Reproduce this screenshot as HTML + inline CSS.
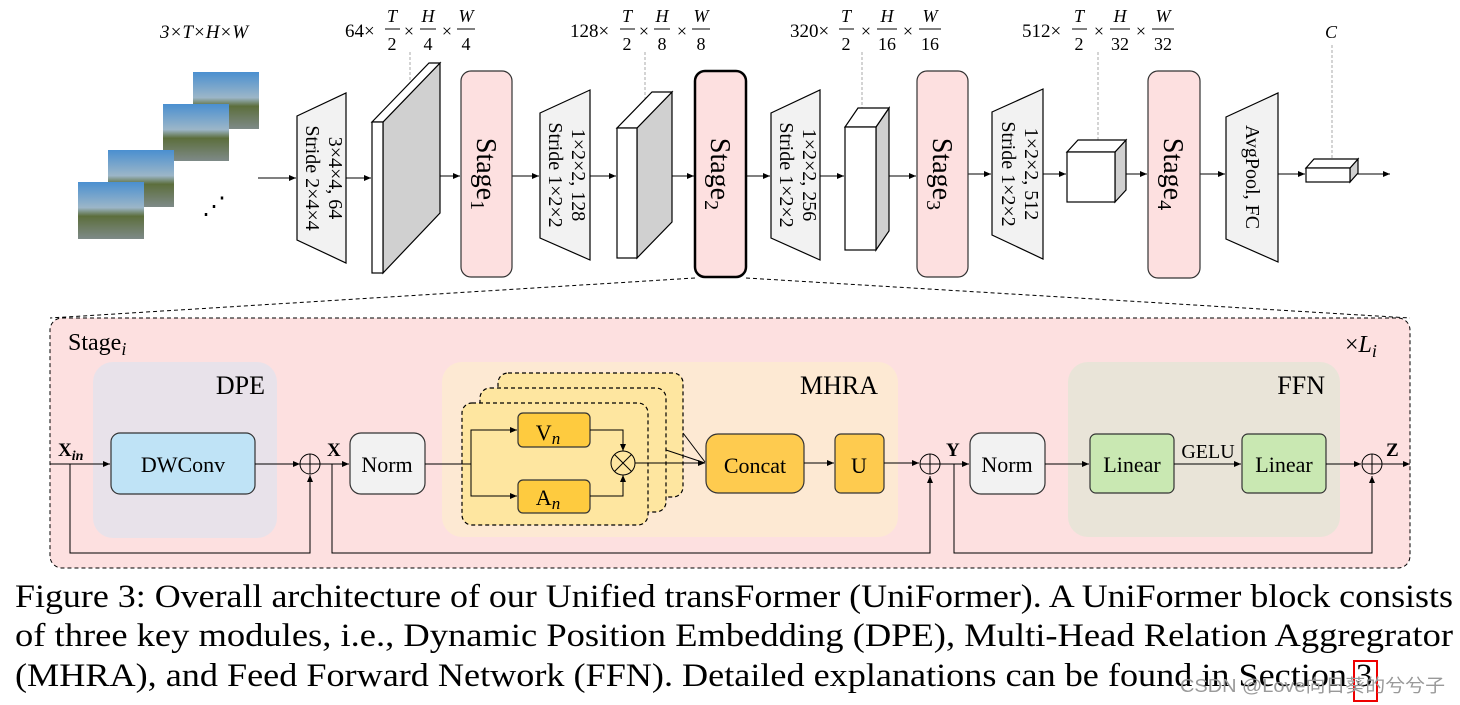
<!DOCTYPE html>
<html><head><meta charset="utf-8"><style>
html,body{margin:0;padding:0;background:#fff;}
svg{display:block;}
text{font-family:"Liberation Serif","DejaVu Serif",serif;}
.s{font-family:"Liberation Sans","DejaVu Sans",sans-serif;}
</style></head><body>
<svg width="1460" height="705" viewBox="0 0 1460 705" xmlns="http://www.w3.org/2000/svg">
<defs>
<marker id="a" markerWidth="8" markerHeight="8" refX="7" refY="4" orient="auto" markerUnits="userSpaceOnUse"><path d="M0,1 L7,4 L0,7 z" fill="#000"/></marker>
<linearGradient id="ph" x1="0" y1="0" x2="0" y2="1"><stop offset="0" stop-color="#4a8fd0"/><stop offset="0.45" stop-color="#9cb6c8"/><stop offset="0.6" stop-color="#5c6e3c"/><stop offset="1" stop-color="#7e8a88"/></linearGradient>
</defs>

<rect x="193" y="72" width="66" height="57" fill="url(#ph)"/>
<rect x="163" y="104" width="66" height="57" fill="url(#ph)"/>
<rect x="108" y="150" width="66" height="57" fill="url(#ph)"/>
<rect x="78" y="182" width="66" height="57" fill="url(#ph)"/>
<text x="202" y="214" font-size="24">⋰</text>

<text x="160" y="38" font-style="italic" font-size="19">3×T×H×W</text>
<g font-size="19">
<text x="345" y="37">64×</text>
<text x="570" y="37">128×</text>
<text x="790" y="37">320×</text>
<text x="1022" y="37">512×</text>
</g>
<g font-size="18" font-style="italic" text-anchor="middle">
<text x="392" y="22">T</text><text x="392" y="50" font-style="normal">2</text><line x1="385" y1="29" x2="400" y2="29" stroke="#000"/>
<text x="409" y="37" font-style="normal">×</text>
<text x="428" y="22">H</text><text x="428" y="50" font-style="normal">4</text><line x1="420" y1="29" x2="436" y2="29" stroke="#000"/>
<text x="447" y="37" font-style="normal">×</text>
<text x="466" y="22">W</text><text x="466" y="50" font-style="normal">4</text><line x1="457" y1="29" x2="475" y2="29" stroke="#000"/>

<text x="627" y="22">T</text><text x="627" y="50" font-style="normal">2</text><line x1="620" y1="29" x2="635" y2="29" stroke="#000"/>
<text x="644" y="37" font-style="normal">×</text>
<text x="662" y="22">H</text><text x="662" y="50" font-style="normal">8</text><line x1="654" y1="29" x2="670" y2="29" stroke="#000"/>
<text x="682" y="37" font-style="normal">×</text>
<text x="701" y="22">W</text><text x="701" y="50" font-style="normal">8</text><line x1="692" y1="29" x2="710" y2="29" stroke="#000"/>

<text x="846" y="22">T</text><text x="846" y="50" font-style="normal">2</text><line x1="839" y1="29" x2="854" y2="29" stroke="#000"/>
<text x="866" y="37" font-style="normal">×</text>
<text x="887" y="22">H</text><text x="887" y="50" font-style="normal">16</text><line x1="877" y1="29" x2="897" y2="29" stroke="#000"/>
<text x="908" y="37" font-style="normal">×</text>
<text x="930" y="22">W</text><text x="930" y="50" font-style="normal">16</text><line x1="919" y1="29" x2="941" y2="29" stroke="#000"/>

<text x="1079" y="22">T</text><text x="1079" y="50" font-style="normal">2</text><line x1="1072" y1="29" x2="1087" y2="29" stroke="#000"/>
<text x="1099" y="37" font-style="normal">×</text>
<text x="1120" y="22">H</text><text x="1120" y="50" font-style="normal">32</text><line x1="1110" y1="29" x2="1130" y2="29" stroke="#000"/>
<text x="1141" y="37" font-style="normal">×</text>
<text x="1163" y="22">W</text><text x="1163" y="50" font-style="normal">32</text><line x1="1152" y1="29" x2="1174" y2="29" stroke="#000"/>
<text x="1331" y="38">C</text>
</g>
<g stroke="#aaa" stroke-dasharray="3,2" stroke-width="1">
<line x1="410" y1="52" x2="410" y2="82"/>
<line x1="645" y1="52" x2="645" y2="104"/>
<line x1="862" y1="52" x2="862" y2="110"/>
<line x1="1098" y1="52" x2="1098" y2="142"/>
<line x1="1332" y1="45" x2="1332" y2="163"/>
</g>

<g stroke="#000" stroke-width="1" marker-end="url(#a)">
<line x1="258" y1="178" x2="296" y2="178"/>
<line x1="346" y1="178" x2="371" y2="178"/>
<line x1="430" y1="176" x2="460" y2="176"/>
<line x1="512" y1="176" x2="539" y2="176"/>
<line x1="590" y1="176" x2="616" y2="176"/>
<line x1="664" y1="176" x2="694" y2="176"/>
<line x1="746" y1="176" x2="770" y2="176"/>
<line x1="820" y1="176" x2="844" y2="176"/>
<line x1="884" y1="176" x2="916" y2="176"/>
<line x1="968" y1="174" x2="991" y2="174"/>
<line x1="1043" y1="174" x2="1066" y2="174"/>
<line x1="1120" y1="174" x2="1147" y2="174"/>
<line x1="1200" y1="174" x2="1225" y2="174"/>
<line x1="1278" y1="174" x2="1305" y2="174"/>
<line x1="1355" y1="174" x2="1390" y2="174"/>
</g>

<g fill="#f2f2f2" stroke="#000" stroke-width="1.2">
<polygon points="297,116 346,93 346,263 297,240"/>
<polygon points="540,113 590,90 590,260 540,238"/>
<polygon points="771,113 820,90 820,260 771,238"/>
<polygon points="992,112 1043,89 1043,259 992,235"/>
<polygon points="1226,117 1278,93 1278,262 1226,239"/>
</g>
<g font-size="20">
<text transform="translate(327,178) rotate(90)" text-anchor="middle" y="-2">3×4×4, 64</text>
<text transform="translate(304,178) rotate(90)" text-anchor="middle" y="-2">Stride 2×4×4</text>
<text transform="translate(570,175) rotate(90)" text-anchor="middle" y="-2">1×2×2, 128</text>
<text transform="translate(547,175) rotate(90)" text-anchor="middle" y="-2">Stride 1×2×2</text>
<text transform="translate(801,175) rotate(90)" text-anchor="middle" y="-2">1×2×2, 256</text>
<text transform="translate(778,175) rotate(90)" text-anchor="middle" y="-2">Stride 1×2×2</text>
<text transform="translate(1023,174) rotate(90)" text-anchor="middle" y="-2">1×2×2, 512</text>
<text transform="translate(1000,174) rotate(90)" text-anchor="middle" y="-2">Stride 1×2×2</text>
<text transform="translate(1246,177) rotate(90)" text-anchor="middle" y="0">AvgPool, FC</text>
</g>

<g stroke="#000" stroke-width="1.2">
<polygon points="383,122 440,63 440,213 383,273" fill="#d0d0d0"/>
<polygon points="372,122 383,122 440,63 429,63" fill="#fff"/>
<rect x="372" y="122" width="11" height="151" fill="#fff"/>
<polygon points="637,128 672,92 672,222 637,258" fill="#d0d0d0"/>
<polygon points="617,128 637,128 672,92 652,92" fill="#fff"/>
<rect x="617" y="128" width="20" height="130" fill="#fff"/>
<polygon points="876,127 889,108 889,231 876,250" fill="#d0d0d0"/>
<polygon points="845,127 876,127 889,108 858,108" fill="#fff"/>
<rect x="845" y="127" width="31" height="123" fill="#fff"/>
<polygon points="1115,152 1126,140 1126,190 1115,202" fill="#d0d0d0"/>
<polygon points="1067,152 1115,152 1126,140 1078,140" fill="#fff"/>
<rect x="1067" y="152" width="48" height="50" fill="#fff"/>
<polygon points="1350,168 1358,159 1358,173 1350,182" fill="#d0d0d0"/>
<polygon points="1306,168 1350,168 1358,159 1314,159" fill="#fff"/>
<rect x="1306" y="168" width="44" height="14" fill="#fff"/>
</g>

<g fill="#fde0e0" stroke="#333" stroke-width="1.2">
<rect x="461" y="71" width="51" height="206" rx="10"/>
<rect x="695" y="71" width="51" height="206" rx="10" stroke="#000" stroke-width="2.5"/>
<rect x="917" y="71" width="51" height="206" rx="10"/>
<rect x="1148" y="71" width="52" height="207" rx="10"/>
</g>
<g font-size="28">
<text transform="translate(477,174) rotate(90)" text-anchor="middle">Stage<tspan font-size="20" dy="6">1</tspan></text>
<text transform="translate(711,174) rotate(90)" text-anchor="middle">Stage<tspan font-size="20" dy="6">2</tspan></text>
<text transform="translate(933,174) rotate(90)" text-anchor="middle">Stage<tspan font-size="20" dy="6">3</tspan></text>
<text transform="translate(1164,174) rotate(90)" text-anchor="middle">Stage<tspan font-size="20" dy="6">4</tspan></text>
</g>

<g stroke="#000" stroke-dasharray="4,3" stroke-width="1">
<line x1="695" y1="278" x2="50" y2="318"/>
<line x1="746" y1="278" x2="1410" y2="318"/>
</g>

<rect x="50" y="318" width="1360" height="250" rx="12" fill="#fde0e0" stroke="#000" stroke-dasharray="4,3" stroke-width="1"/>
<text x="68" y="350" font-size="24">Stage<tspan font-style="italic" font-size="18" dy="5">i</tspan></text>
<text x="1345" y="352" font-size="24">×<tspan font-style="italic">L</tspan><tspan font-style="italic" font-size="18" dy="5">i</tspan></text>

<rect x="93" y="362" width="184" height="176" rx="20" fill="#e8e2ea"/>
<text x="265" y="394" font-size="26" text-anchor="end">DPE</text>
<rect x="442" y="362" width="456" height="175" rx="20" fill="#fde9d3"/>
<text x="878" y="394" font-size="26" text-anchor="end">MHRA</text>
<rect x="1068" y="362" width="272" height="175" rx="20" fill="#e9e4d8"/>
<text x="1325" y="394" font-size="26" text-anchor="end">FFN</text>

<g fill="#fee6a0" stroke="#000" stroke-dasharray="4,3" stroke-width="1.2">
<rect x="498" y="373" width="185" height="124" rx="10"/>
<rect x="480" y="388" width="186" height="124" rx="10"/>
<rect x="462" y="403" width="186" height="122" rx="10"/>
</g>

<g stroke="#333" stroke-width="1.2">
<rect x="111" y="433" width="144" height="61" rx="9" fill="#bfe3f6"/>
<rect x="350" y="433" width="75" height="61" rx="11" fill="#f2f2f2"/>
<rect x="518" y="413" width="72" height="34" rx="5" fill="#fecb3f"/>
<rect x="518" y="480" width="72" height="33" rx="5" fill="#fecb3f"/>
<rect x="706" y="434" width="98" height="59" rx="12" fill="#fecb4f"/>
<rect x="835" y="434" width="49" height="59" rx="6" fill="#fecb4f"/>
<rect x="970" y="433" width="75" height="61" rx="11" fill="#f2f2f2"/>
<rect x="1090" y="434" width="84" height="59" rx="6" fill="#c9e8b2"/>
<rect x="1242" y="434" width="84" height="59" rx="6" fill="#c9e8b2"/>
</g>
<g font-size="22" text-anchor="middle">
<text x="183" y="472">DWConv</text>
<text x="387" y="472">Norm</text>
<text x="548" y="440">V<tspan font-style="italic" font-size="17" dy="4">n</tspan></text>
<text x="548" y="505">A<tspan font-style="italic" font-size="17" dy="4">n</tspan></text>
<text x="755" y="473">Concat</text>
<text x="859" y="473">U</text>
<text x="1007" y="472">Norm</text>
<text x="1132" y="472">Linear</text>
<text x="1284" y="472">Linear</text>
<text x="1208" y="458" font-size="20">GELU</text>
</g>
<g font-size="19" font-weight="bold">
<text x="58" y="456">X<tspan font-style="italic" font-size="14" dy="4">in</tspan></text>
<text x="327" y="456">X</text>
<text x="946" y="456">Y</text>
<text x="1386" y="456">Z</text>
</g>

<g stroke="#000" stroke-width="1" fill="none">
<line x1="50" y1="464" x2="110" y2="464" marker-end="url(#a)"/>
<line x1="255" y1="464" x2="300" y2="464" marker-end="url(#a)"/>
<polyline points="70,464 70,553 310,553 310,475" marker-end="url(#a)"/>
<circle cx="310" cy="464" r="10"/>
<line x1="300" y1="464" x2="320" y2="464"/><line x1="310" y1="454" x2="310" y2="474"/>
<line x1="320" y1="464" x2="349" y2="464" marker-end="url(#a)"/>
<polyline points="332,464 332,553 930,553 930,476" marker-end="url(#a)"/>
<line x1="425" y1="464" x2="471" y2="464"/>
<polyline points="471,464 471,430 517,430" marker-end="url(#a)"/>
<polyline points="471,464 471,496 517,496" marker-end="url(#a)"/>
<polyline points="590,430 623,430 623,451" marker-end="url(#a)"/>
<polyline points="590,496 623,496 623,475" marker-end="url(#a)"/>
<circle cx="623" cy="463" r="12"/>
<line x1="614.5" y1="454.5" x2="631.5" y2="471.5"/><line x1="631.5" y1="454.5" x2="614.5" y2="471.5"/>
<line x1="635" y1="463" x2="705" y2="463" marker-end="url(#a)"/>
<line x1="683" y1="433" x2="705" y2="462"/>
<line x1="666" y1="450" x2="705" y2="463"/>
<line x1="804" y1="463" x2="834" y2="463" marker-end="url(#a)"/>
<line x1="884" y1="463" x2="919" y2="463" marker-end="url(#a)"/>
<circle cx="930" cy="464" r="10"/>
<line x1="920" y1="464" x2="940" y2="464"/><line x1="930" y1="454" x2="930" y2="474"/>
<line x1="940" y1="464" x2="969" y2="464" marker-end="url(#a)"/>
<polyline points="954,464 954,553 1372,553 1372,476" marker-end="url(#a)"/>
<line x1="1045" y1="464" x2="1089" y2="464" marker-end="url(#a)"/>
<line x1="1174" y1="464" x2="1241" y2="464" marker-end="url(#a)"/>
<line x1="1326" y1="464" x2="1361" y2="464" marker-end="url(#a)"/>
<circle cx="1372" cy="464" r="10"/>
<line x1="1362" y1="464" x2="1382" y2="464"/><line x1="1372" y1="454" x2="1372" y2="474"/>
<line x1="1382" y1="464" x2="1410" y2="464" marker-end="url(#a)"/>
</g>

<g font-size="33">
<text x="15" y="607" textLength="1438" lengthAdjust="spacingAndGlyphs">Figure 3: Overall architecture of our Unified transFormer (UniFormer). A UniFormer block consists</text>
<text x="15" y="646" textLength="1438" lengthAdjust="spacingAndGlyphs">of three key modules, i.e., Dynamic Position Embedding (DPE), Multi-Head Relation Aggregrator</text>
<text x="15" y="686" textLength="1332" lengthAdjust="spacingAndGlyphs">(MHRA), and Feed Forward Network (FFN). Detailed explanations can be found in Section</text>
<text x="1356" y="686">3</text>
</g>
<rect x="1354" y="661" width="23" height="40" fill="none" stroke="#e00" stroke-width="2"/>
<text x="1180" y="692" font-size="18" fill="#999" textLength="265" lengthAdjust="spacingAndGlyphs" style="font-family:'Liberation Sans','Noto Sans CJK SC',sans-serif">CSDN @Love向日葵的兮兮子</text>
</svg>
</body></html>
